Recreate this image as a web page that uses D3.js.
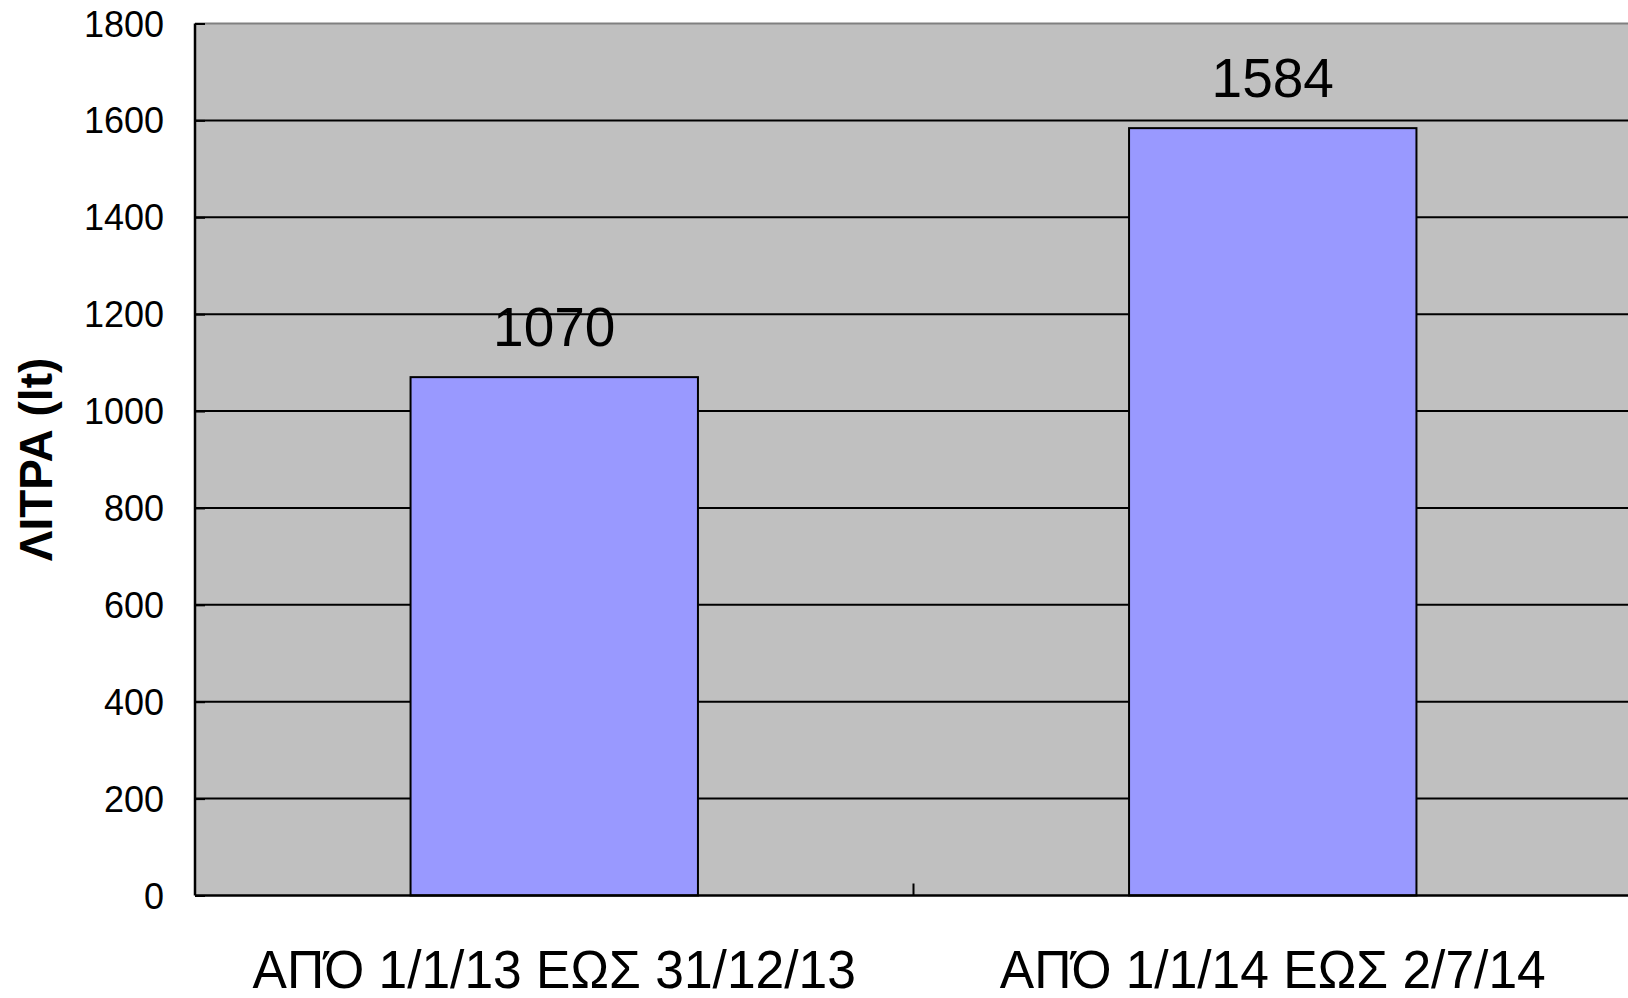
<!DOCTYPE html>
<html lang="el">
<head>
    <meta charset="UTF-8">
    <title>ΛΙΤΡΑ</title>
    <style>
        body { margin: 0; background: #fff; }
        text { font-family: "Liberation Sans", Arial, sans-serif; fill: #000; }
    </style>
</head>
<body>
<svg id="svg" width="1628" height="998"></svg>
<script src="https://d3js.org/d3.v7.min.js"></script>
<script>
    // data
    const categories = ["ΑΠΌ 1/1/13 ΕΩΣ 31/12/13", "ΑΠΌ 1/1/14 ΕΩΣ 2/7/14"];
    const values = [1070, 1584];
    const yTicks = [0, 200, 400, 600, 800, 1000, 1200, 1400, 1600, 1800];
    const yTitle = "ΛΙΤΡΑ (lt)";

    const svg = d3.select("#svg");

    const plotLeft = 195, plotRight = 1632, plotTop = 23.5, plotBottom = 895.5;

    const x = d3.scaleBand()
        .domain(categories)
        .range([plotLeft, plotRight])
        .paddingInner(0.6)
        .paddingOuter(0.3);

    const y = d3.scaleLinear()
        .domain([0, 1800])
        .range([plotBottom, plotTop]);

    // plot background
    svg.append("rect")
        .attr("x", plotLeft).attr("y", plotTop)
        .attr("width", plotRight - plotLeft).attr("height", plotBottom - plotTop)
        .attr("fill", "#c0c0c0");

    // top border (grey)
    svg.append("line")
        .attr("x1", plotLeft).attr("x2", plotRight)
        .attr("y1", plotTop).attr("y2", plotTop)
        .attr("stroke", "#808080").attr("stroke-width", 2);

    // gridlines
    svg.append("g").selectAll("line")
        .data(yTicks.filter(d => d > 0 && d < 1800))
        .join("line")
        .attr("x1", plotLeft).attr("x2", plotRight)
        .attr("y1", d => y(d)).attr("y2", d => y(d))
        .attr("stroke", "#000").attr("stroke-width", 2);

    // bars
    svg.append("g").selectAll("rect")
        .data(values)
        .join("rect")
        .attr("x", (d, i) => x(categories[i]))
        .attr("y", d => y(d))
        .attr("width", x.bandwidth())
        .attr("height", d => y(0) - y(d))
        .attr("fill", "#9999ff")
        .attr("stroke", "#000")
        .attr("stroke-width", 2);

    // value labels
    svg.append("g").selectAll("text")
        .data(values)
        .join("text")
        .attr("x", (d, i) => x(categories[i]) + x.bandwidth() / 2)
        .attr("y", d => y(d) - 31)
        .attr("text-anchor", "middle")
        .style("font-size", "55px")
        .text(d => d);

    // y axis: ticks inside, labels left
    const yAxis = svg.append("g")
        .attr("transform", "translate(" + plotLeft + ",0)")
        .call(d3.axisRight(y).tickValues(yTicks).tickSize(10).tickFormat(""));
    yAxis.select(".domain").attr("stroke", "#000").attr("stroke-width", 2.5).attr("d", "M0," + plotTop + "V" + plotBottom);
    yAxis.selectAll(".tick line").attr("stroke", "#000").attr("stroke-width", 2);

    svg.append("g").selectAll("text")
        .data(yTicks)
        .join("text")
        .attr("x", 164)
        .attr("y", d => y(d) + 13)
        .attr("text-anchor", "end")
        .style("font-size", "36px")
        .text(d => d);

    // x axis
    svg.append("line")
        .attr("x1", plotLeft).attr("x2", plotRight)
        .attr("y1", plotBottom).attr("y2", plotBottom)
        .attr("stroke", "#000").attr("stroke-width", 2.5);

    // category separator tick
    svg.append("line")
        .attr("x1", x.step() + plotLeft).attr("x2", x.step() + plotLeft)
        .attr("y1", plotBottom).attr("y2", plotBottom - 12)
        .attr("stroke", "#000").attr("stroke-width", 2);

    svg.append("g").selectAll("text")
        .data(categories)
        .join("text")
        .attr("transform", d => "translate(" + (x(d) + x.bandwidth() / 2) + ",988) scale(0.955,1)")
        .attr("text-anchor", "middle")
        .style("font-size", "54px")
        .text(d => d);

    // y title
    svg.append("text")
        .attr("transform", "translate(52," + ((plotTop + plotBottom) / 2) + ") rotate(-90)")
        .attr("text-anchor", "middle")
        .style("font-size", "46px")
        .style("font-weight", "bold")
        .text(yTitle);
</script>
</body>
</html>
